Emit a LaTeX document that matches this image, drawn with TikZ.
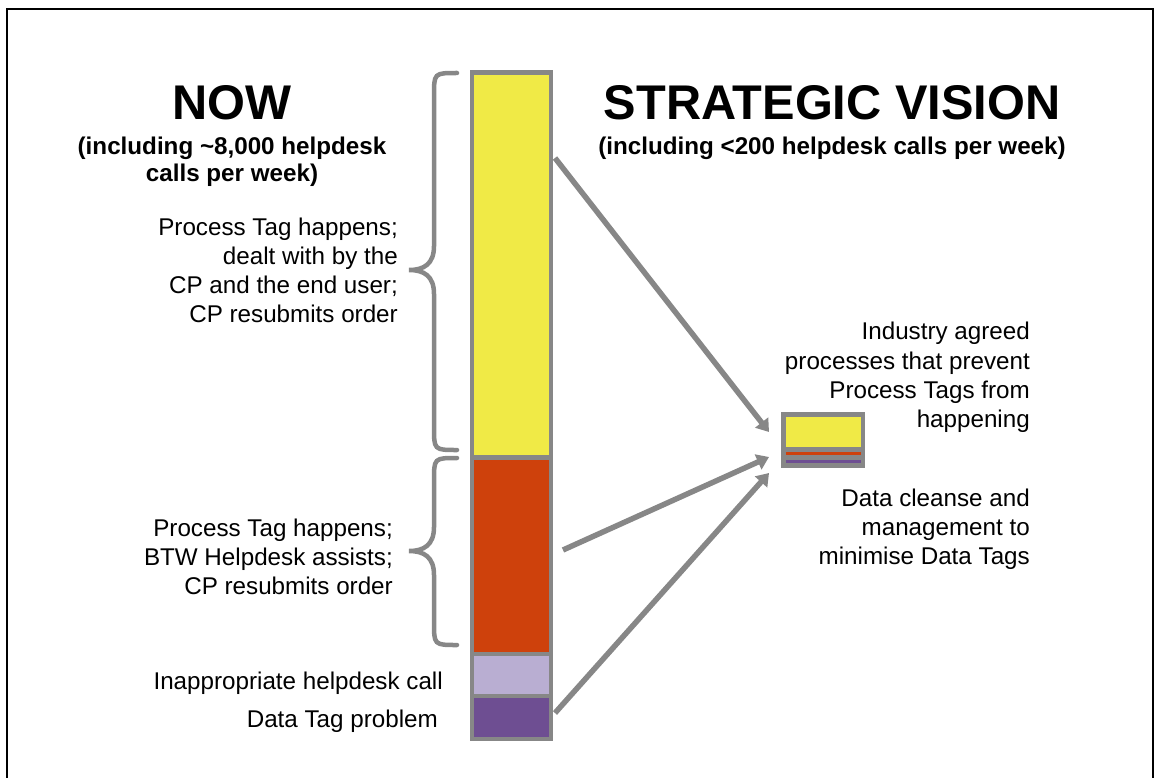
\documentclass[tikz,border=0pt]{standalone}
\usepackage{fontspec}
\setmainfont{Liberation Sans}
\usetikzlibrary{arrows.meta}
\definecolor{barg}{RGB}{135,135,135}
\definecolor{cyel}{RGB}{240,234,70}
\definecolor{cred}{RGB}{206,65,12}
\definecolor{clav}{RGB}{185,174,210}
\definecolor{cpur}{RGB}{110,78,146}
\begin{document}
\begin{tikzpicture}[x=1pt,y=-1pt,
  seg/.style={draw=barg, line width=4.5pt, anchor=north west, inner sep=0pt, outer sep=0pt, minimum width=79pt},
  lbl/.style={inner sep=0pt, font=\fontsize{24.2pt}{29.3pt}\selectfont},
  lblr/.style={lbl, anchor=base east},
  ttl/.style={inner sep=0pt, font=\fontsize{48.7pt}{58pt}\selectfont\bfseries, anchor=base},
  sub/.style={inner sep=0pt, font=\fontsize{24.2pt}{29.3pt}\selectfont\bfseries, anchor=base},
  brc/.style={draw=barg, line width=4.5pt, line cap=round},
  arr/.style={draw=barg, line width=5.5pt, -{Triangle[length=12pt,width=16pt]}}]
\useasboundingbox (0,0) rectangle (1155,778);
% frame
\draw[line width=2.5pt, black] (7,778) -- (7,9) -- (1153,9) -- (1153,778);

% bar
\node[seg, fill=cyel, minimum height=385pt] (yel) at (472,72.5) {};
\node[seg, fill=cred, minimum height=196.5pt] (red) at (472,457.5) {};
\node[seg, fill=clav, minimum height=42pt] (lav) at (472,654) {};
\node[seg, fill=cpur, minimum height=43pt] (pur) at (472,696) {};

% small box
\node[fill=barg, anchor=north west, inner sep=0pt, outer sep=0pt, minimum width=84pt, minimum height=56pt] (box) at (781,412) {};
\fill[cyel] (786,417) rectangle (861,447);
\fill[cred] (786,452) rectangle (861,455);
\fill[cpur] (786,460) rectangle (861,463);

% arrows
\coordinate (s1) at (555,158);
\coordinate (e1) at (769,432);
\coordinate (s2) at (563,550);
\coordinate (e2) at (769,457);
\coordinate (s3) at (555,713);
\coordinate (e3) at (769,473);
\draw[arr] (s1) -- (e1);
\draw[arr] (s2) -- (e2);
\draw[arr] (s3) -- (e3);

% braces
\draw[brc] (457,73) .. controls (434,73) .. (434,96) -- (434,246) .. controls (434,264) and (424,270) .. (409,270) .. controls (424,270) and (434,276) .. (434,294) -- (434,427) .. controls (434,450) .. (457,450);
\draw[brc] (457,458) .. controls (434,458) .. (434,481) -- (434,527) .. controls (434,545) and (424,551) .. (409,551) .. controls (424,551) and (434,557) .. (434,575) -- (434,622) .. controls (434,645) .. (457,645);

% titles
\node[ttl] (now) at (232,119.5) {NOW};
\node[sub] (now1) at (232,154) {(including \textasciitilde 8,000 helpdesk};
\node[sub] (now2) at (232,182) {calls per week)};
\node[ttl] (sv) at (832,119.5) {STRATEGIC VISION};
\node[sub] (sv1) at (832,154) {(including <200 helpdesk calls per week)};

% left labels
\node[lblr] (a1) at (398,235) {Process Tag happens;};
\node[lblr] (a2) at (398,264) {dealt with by the};
\node[lblr] (a3) at (398,293) {CP and the end user;};
\node[lblr] (a4) at (398,322) {CP resubmits order};
\node[lblr] (b1) at (393,536) {Process Tag happens;};
\node[lblr] (b2) at (393,565) {BTW Helpdesk assists;};
\node[lblr] (b3) at (393,594) {CP resubmits order};
\node[lblr] (c1) at (443,689) {Inappropriate helpdesk call};
\node[lblr] (d1) at (438,727) {Data Tag problem};

% right labels
\node[lblr] (r1) at (1030,339) {Industry agreed};
\node[lblr] (r2) at (1030,369) {processes that prevent};
\node[lblr] (r3) at (1030,398) {Process Tags from};
\node[lblr] (r4) at (1030,427) {happening};
\node[lblr] (q1) at (1030,506) {Data cleanse and};
\node[lblr] (q2) at (1030,535) {management to};
\node[lblr] (q3) at (1030,564) {minimise Data Tags};
\end{tikzpicture}
\end{document}
